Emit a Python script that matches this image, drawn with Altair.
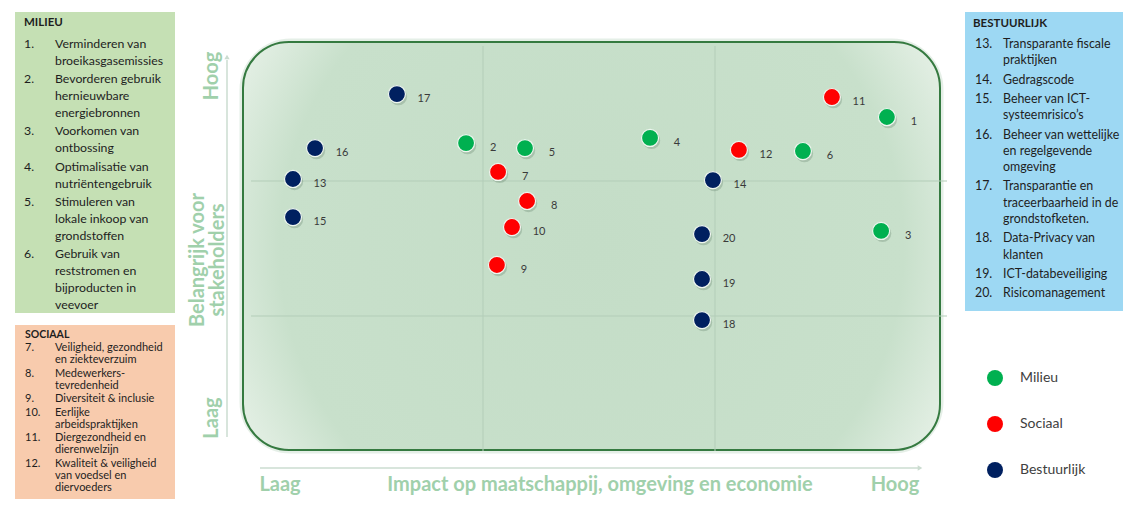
import altair as alt
import pandas as pd

# ---------------- data ----------------
ids = [str(i) for i in range(1, 21)]
impact = [2.741, 0.927, 2.716, 1.720, 1.181, 2.379, 1.065, 1.190, 1.060, 1.125,
          2.504, 2.103, 0.181, 1.991, 0.181, 0.276, 0.629, 1.944, 1.944, 1.944]
importance = [2.474, 2.281, 1.630, 2.319, 2.244, 2.222, 2.067, 1.852, 1.378, 1.659,
              2.622, 2.230, 2.015, 2.007, 1.733, 2.244, 2.644, 0.970, 1.274, 1.607]
group = ["Milieu"] * 6 + ["Sociaal"] * 6 + ["Bestuurlijk"] * 8
groups = ["Milieu", "Sociaal", "Bestuurlijk"]
group_colors = ["#00B050", "#FF0000", "#002060"]

milieu_title = "MILIEU"
milieu_items = [
    ("1.", ["Verminderen van", "broeikasgasemissies"]),
    ("2.", ["Bevorderen gebruik", "hernieuwbare", "energiebronnen"]),
    ("3.", ["Voorkomen van", "ontbossing"]),
    ("4.", ["Optimalisatie van", "nutriëntengebruik"]),
    ("5.", ["Stimuleren van", "lokale inkoop van", "grondstoffen"]),
    ("6.", ["Gebruik van", "reststromen en", "bijproducten in", "veevoer"]),
]
sociaal_title = "SOCIAAL"
sociaal_items = [
    ("7.", ["Veiligheid, gezondheid", "en ziekteverzuim"]),
    ("8.", ["Medewerkers-", "tevredenheid"]),
    ("9.", ["Diversiteit & inclusie"]),
    ("10.", ["Eerlijke", "arbeidspraktijken"]),
    ("11.", ["Diergezondheid en", "dierenwelzijn"]),
    ("12.", ["Kwaliteit & veiligheid", "van voedsel en", "diervoeders"]),
]
bestuur_title = "BESTUURLIJK"
bestuur_items = [
    ("13.", ["Transparante fiscale", "praktijken"]),
    ("14.", ["Gedragscode"]),
    ("15.", ["Beheer van ICT-", "systeemrisico’s"]),
    ("16.", ["Beheer van wettelijke", "en regelgevende", "omgeving"]),
    ("17.", ["Transparantie en", "traceerbaarheid in de", "grondstofketen."]),
    ("18.", ["Data-Privacy van", "klanten"]),
    ("19.", ["ICT-databeveiliging"]),
    ("20.", ["Risicomanagement"]),
]

x_title = "Impact op maatschappij, omgeving en economie"
y_title = ["Belangrijk voor", "stakeholders"]
low_label, high_label = "Laag", "Hoog"

# ---------------- layout helpers ----------------
OFF = 8  # page margin
FONT = "Lato"
AXIS_TXT = "#a0d0ab"

df = pd.DataFrame({"id": ids, "impact": impact, "importance": importance, "group": group})

xs = alt.Scale(domain=[0, 3], range=[251 - OFF, 947 - OFF])
ys = alt.Scale(domain=[0, 3], range=[451 - OFF, 46 - OFF])


def panel_rows(items, num_x, txt_x, y0, line_h, gap):
    rows = []
    y = y0
    for num, lines in items:
        rows.append({"px": num_x - OFF, "py": y - OFF, "t": num})
        for ln in lines:
            rows.append({"px": txt_x - OFF, "py": y - OFF, "t": ln})
            y += line_h
        y += gap
    return rows


def text_layer(rows, size, weight="normal", color="#1e1e1e", align="left", angle=0):
    return alt.Chart(pd.DataFrame(rows)).mark_text(
        align=align, baseline="middle", font=FONT, fontSize=size,
        fontWeight=weight, color=color, angle=angle
    ).encode(
        x=alt.X("px:Q", scale=None, axis=None),
        y=alt.Y("py:Q", scale=None, axis=None),
        text="t:N",
    )


# panels
panels = pd.DataFrame({
    "x": [15 - OFF, 15 - OFF, 965 - OFF],
    "x2": [175 - OFF, 175 - OFF, 1123 - OFF],
    "y": [12 - OFF, 325 - OFF, 12 - OFF],
    "y2": [313 - OFF, 505 - OFF, 311 - OFF],
    "fill": ["#c5e0b4", "#f8cbad", "#9dd8f3"],
})
panel_layer = alt.Chart(panels).mark_rect().encode(
    x=alt.X("x:Q", scale=None, axis=None), x2="x2:Q",
    y=alt.Y("y:Q", scale=None, axis=None), y2="y2:Q",
    fill=alt.Fill("fill:N", scale=None),
)

milieu_txt = text_layer(panel_rows(milieu_items, 24, 55, 44, 16.8, 1.7), 12.3)
milieu_hdr = text_layer([{"px": 24 - OFF, "py": 23 - OFF, "t": milieu_title}], 11.5, "bold")
sociaal_txt = text_layer(panel_rows(sociaal_items, 25, 55, 348, 12.1, 1.4), 11)
sociaal_hdr = text_layer([{"px": 25 - OFF, "py": 335 - OFF, "t": sociaal_title}], 10.5, "bold")
bestuur_txt = text_layer(panel_rows(bestuur_items, 975, 1003, 44, 16.3, 3.0), 12.4)
bestuur_hdr = text_layer([{"px": 973 - OFF, "py": 24 - OFF, "t": bestuur_title}], 11.5, "bold")

# background box
one = pd.DataFrame({"k": [0]})
glow = alt.Chart(one).mark_rect(
    cornerRadius=48, fill="#ffffff", fillOpacity=0, stroke="#d3e4d7", strokeWidth=7, strokeOpacity=0.6
).encode(x=alt.value(243 - OFF), x2=alt.value(940 - OFF), y=alt.value(42 - OFF), y2=alt.value(450 - OFF))
box = alt.Chart(one).mark_rect(
    cornerRadius=46,
    fill=alt.RadialGradient(
        gradient="radial",
        stops=[alt.GradientStop(offset=0, color="#c4ddc7"),
               alt.GradientStop(offset=0.8, color="#c8e0cb"),
               alt.GradientStop(offset=1, color="#e3efe4")],
        x1=0.5, y1=0.5, r1=0, x2=0.5, y2=0.5, r2=0.56,
    ),
    stroke="#357a40", strokeWidth=2,
).encode(x=alt.value(243 - OFF), x2=alt.value(940 - OFF), y=alt.value(42 - OFF), y2=alt.value(450 - OFF))

# grid lines
grid = pd.DataFrame({"gx": [1, 2, 0, 0], "gx2": [1, 2, 3, 3], "gy": [0, 0, 1, 2], "gy2": [3, 3, 1, 2]})
grid_layer = alt.Chart(grid).mark_rule(color="#b3cdb8", strokeWidth=1).encode(
    x=alt.X("gx:Q", scale=xs, axis=None), x2="gx2:Q",
    y=alt.Y("gy:Q", scale=ys, axis=None), y2="gy2:Q",
)

# axis arrows
arrow_col = "#cbdcd0"
x_arrow = alt.Chart(one).mark_rule(color=arrow_col, strokeWidth=1.5).encode(
    x=alt.value(260 - OFF), x2=alt.value(918 - OFF), y=alt.value(468 - OFF))
x_head = alt.Chart(one).mark_point(shape="triangle-right", filled=True, size=28, color=arrow_col, opacity=1).encode(
    x=alt.value(920 - OFF), y=alt.value(468 - OFF))
y_arrow = alt.Chart(one).mark_rule(color=arrow_col, strokeWidth=1.5).encode(
    x=alt.value(227 - OFF), y=alt.value(60 - OFF), y2=alt.value(437 - OFF))
y_head = alt.Chart(one).mark_point(shape="triangle-up", filled=True, size=28, color=arrow_col, opacity=1).encode(
    x=alt.value(227 - OFF), y=alt.value(57 - OFF))

x_texts = text_layer([
    {"px": 280 - OFF, "py": 485 - OFF, "t": low_label},
    {"px": 600 - OFF, "py": 485 - OFF, "t": x_title},
    {"px": 895 - OFF, "py": 485 - OFF, "t": high_label},
], 20, "bold", AXIS_TXT, "center")
y_texts = text_layer([
    {"px": 212 - OFF, "py": 76 - OFF, "t": high_label},
    {"px": 198 - OFF, "py": 260 - OFF, "t": y_title[0]},
    {"px": 218 - OFF, "py": 260 - OFF, "t": y_title[1]},
    {"px": 212 - OFF, "py": 418 - OFF, "t": low_label},
], 20, "bold", AXIS_TXT, "center", 270)

# points
enc_x = alt.X("impact:Q", scale=xs, axis=None)
enc_y = alt.Y("importance:Q", scale=ys, axis=None)
shadow = alt.Chart(df).mark_circle(size=300, color="#1d3b25", opacity=0.18, xOffset=1.5, yOffset=2.5).encode(
    x=enc_x, y=enc_y)
points = alt.Chart(df).mark_circle(size=290, opacity=1, stroke="#eef6ef", strokeWidth=1.2).encode(
    x=enc_x, y=enc_y,
    color=alt.Color("group:N", scale=alt.Scale(domain=groups, range=group_colors),
                    legend=alt.Legend(orient="none", legendX=979, legendY=362, title=None,
                                      symbolType="circle", symbolSize=256, symbolStrokeWidth=0,
                                      labelFont=FONT, labelFontSize=14, labelColor="#404040",
                                      rowPadding=30, labelOffset=17, padding=0)),
)
labels = alt.Chart(df).mark_text(align="center", baseline="middle", dx=27, dy=5,
                                 font=FONT, fontSize=11, color="#3a3a3a").encode(
    x=enc_x, y=enc_y, text="id:N")

chart = alt.layer(
    panel_layer, milieu_hdr, milieu_txt, sociaal_hdr, sociaal_txt, bestuur_hdr, bestuur_txt,
    glow, box, grid_layer, x_arrow, x_head, y_arrow, y_head, x_texts, y_texts,
    shadow, points, labels,
).resolve_scale(x="independent", y="independent").properties(
    width=1115, height=491, autosize=alt.AutoSizeParams(type="none"), padding=0,
    background="#ffffff",
).configure_view(stroke=None)

chart.save("out.html", embed_options={"renderer": "svg", "actions": False})
